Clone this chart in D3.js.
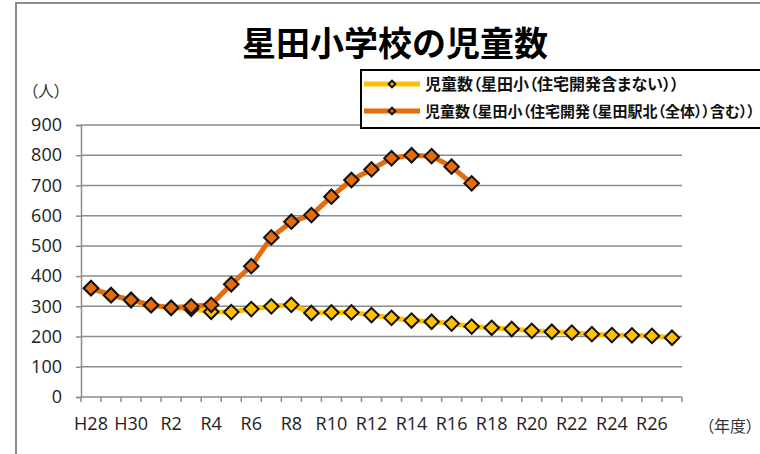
<!DOCTYPE html>
<html>
<head>
<meta charset="utf-8">
<script src="https://cdn.jsdelivr.net/npm/d3@7"></script>
<style>
  body { margin: 0; background: #fff; }
  svg { display: block; }
  text { font-family: "Open Sans", "Noto Sans CJK JP", sans-serif; fill: #333; }
  /* palt = proportional brackets, close to the narrow ones in the original */
  .jp { font-family: "Noto Sans CJK JP", sans-serif; font-feature-settings: "palt" 1; }
</style>
</head>
<body>
<svg id="chart" width="760" height="454"></svg>
<script>
// 年度 (H28 .. R27)
const years = ["H28", "H29", "H30", "R1", "R2", "R3", "R4", "R5", "R6", "R7",
               "R8", "R9", "R10", "R11", "R12", "R13", "R14", "R15", "R16", "R17",
               "R18", "R19", "R20", "R21", "R22", "R23", "R24", "R25", "R26", "R27"];

// labels shown under the x axis (every other year)
const yearLabels = ["H28", "H30", "R2", "R4", "R6", "R8", "R10", "R12", "R14",
                    "R16", "R18", "R20", "R22", "R24", "R26"];

const yTicks = [0, 100, 200, 300, 400, 500, 600, 700, 800, 900];

// 児童数 without housing development (whole range)
const withoutDev = [360, 337, 321, 304, 295, 292, 282, 281, 291, 300,
                    305, 278, 280, 280, 271, 262, 253, 249, 243, 233,
                    229, 225, 219, 216, 213, 208, 205, 204, 202, 196];

// 児童数 including housing development (only up to R17)
const withDev = [360, 337, 321, 304, 295, 300, 305, 373, 433, 528,
                 580, 602, 663, 718, 753, 790, 800, 797, 762, 707];

const seriesNames = ["児童数（星田小（住宅開発含まない））",
                     "児童数（星田小（住宅開発（星田駅北（全体））含む））"];

const svg = d3.select("#chart");

// plot box
const plotLeft = 81, plotRight = 682, plotTop = 125, plotBottom = 397;

const x = d3.scaleBand().domain(years).range([plotLeft, plotRight]);
const y = d3.scaleLinear().domain([0, 900]).range([plotBottom, plotTop]);
const cx = d => x(d) + x.bandwidth() / 2;

// outer chart frame (runs off the right and bottom edges)
svg.append("rect")
   .attr("x", 16).attr("y", 3)
   .attr("width", 800).attr("height", 500)
   .attr("fill", "none")
   .attr("stroke", "#8c8c8c")
   .attr("stroke-width", 2);

// title
svg.append("text")
   .attr("class", "jp")
   .attr("x", 395).attr("y", 56)
   .attr("text-anchor", "middle")
   .style("font-size", "34px")
   .style("font-weight", "bold")
   .style("font-feature-settings", "normal")
   .style("fill", "#000")
   .text("星田小学校の児童数");

// gridlines
svg.append("g").selectAll("line")
   .data(yTicks.filter(d => d > 0))
   .join("line")
   .attr("x1", plotLeft).attr("x2", plotRight)
   .attr("y1", d => y(d)).attr("y2", d => y(d))
   .attr("stroke", "#8c8c8c")
   .attr("stroke-width", 1.5);

// y axis
let yAxis = svg.append("g")
   .attr("transform", `translate(${plotLeft},0)`)
   .call(d3.axisLeft(y).tickValues(yTicks).tickSize(5).tickPadding(14));
yAxis.select(".domain").attr("stroke", "#8c8c8c").attr("stroke-width", 1.5);
yAxis.selectAll(".tick line").attr("stroke", "#8c8c8c").attr("stroke-width", 1.5);
yAxis.selectAll(".tick text")
     .style("font-size", "18px")
     .style("font-family", "'Open Sans', sans-serif")
     .style("fill", "#222");

// x axis line + tick marks at the category boundaries
svg.append("line")
   .attr("x1", plotLeft).attr("x2", plotRight)
   .attr("y1", plotBottom).attr("y2", plotBottom)
   .attr("stroke", "#8c8c8c").attr("stroke-width", 1.5);

svg.append("g").selectAll("line")
   .data(years.map(d => x(d)).concat([plotRight]))
   .join("line")
   .attr("x1", d => d).attr("x2", d => d)
   .attr("y1", plotBottom).attr("y2", plotBottom + 5)
   .attr("stroke", "#8c8c8c").attr("stroke-width", 1.5);

// x labels
svg.append("g").selectAll("text")
   .data(yearLabels)
   .join("text")
   .attr("x", d => cx(d))
   .attr("y", 430)
   .attr("text-anchor", "middle")
   .style("font-size", "18px")
   .style("fill", "#222")
   .text(d => d);

// unit labels
svg.append("text").attr("class", "jp")
   .attr("x", 30).attr("y", 97)
   .style("font-size", "16px")
   .text("（人）");
svg.append("text").attr("class", "jp")
   .attr("x", 706).attr("y", 432)
   .style("font-size", "16px")
   .text("（年度）");

// lines + diamond markers
const line = d3.line()
   .x((d, i) => cx(years[i]))
   .y(d => y(d));

function drawSeries(values, color) {
    svg.append("path")
       .datum(values)
       .attr("fill", "none")
       .attr("stroke", color)
       .attr("stroke-width", 5)
       .attr("stroke-linejoin", "round")
       .attr("d", line);

    svg.append("g").selectAll("path")
       .data(values)
       .join("path")
       .attr("transform", (d, i) => `translate(${cx(years[i])},${y(d)}) rotate(45)`)
       .attr("d", d3.symbol().type(d3.symbolSquare).size(105))
       .attr("fill", color)
       .attr("stroke", "#111")
       .attr("stroke-width", 2);
}

drawSeries(withoutDev, "#ffc000");
drawSeries(withDev, "#e46c0a");

// legend
svg.append("rect")
   .attr("x", 361).attr("y", 70)
   .attr("width", 420).attr("height", 58)
   .attr("fill", "#fff")
   .attr("stroke", "#000")
   .attr("stroke-width", 2);

let legend = svg.append("g").selectAll("g")
   .data(seriesNames)
   .join("g")
   .attr("transform", (d, i) => `translate(0,${84 + i * 27})`);

legend.append("line")
   .attr("x1", 364).attr("x2", 420)
   .attr("stroke", (d, i) => i == 0 ? "#ffc000" : "#e46c0a")
   .attr("stroke-width", 5);

legend.append("path")
   .attr("transform", "translate(392,0) rotate(45)")
   .attr("d", d3.symbol().type(d3.symbolSquare).size(22))
   .attr("fill", (d, i) => i == 0 ? "#ffc000" : "#e46c0a")
   .attr("stroke", "#111")
   .attr("stroke-width", 2);

let legendText = legend.append("text")
   .attr("class", "jp")
   .attr("x", 425).attr("y", 6)
   .style("font-size", "16px")
   .style("font-weight", "bold")
   .style("fill", "#111")
   .text(d => d);

// long second label: shrink the font a little so it stays inside the page
legendText.each(function () {
    let w = this.getComputedTextLength();
    let room = 755 - 425;
    if (w > room) {
        d3.select(this).style("font-size", (16 * room / w).toFixed(2) + "px");
    }
});
</script>
</body>
</html>
